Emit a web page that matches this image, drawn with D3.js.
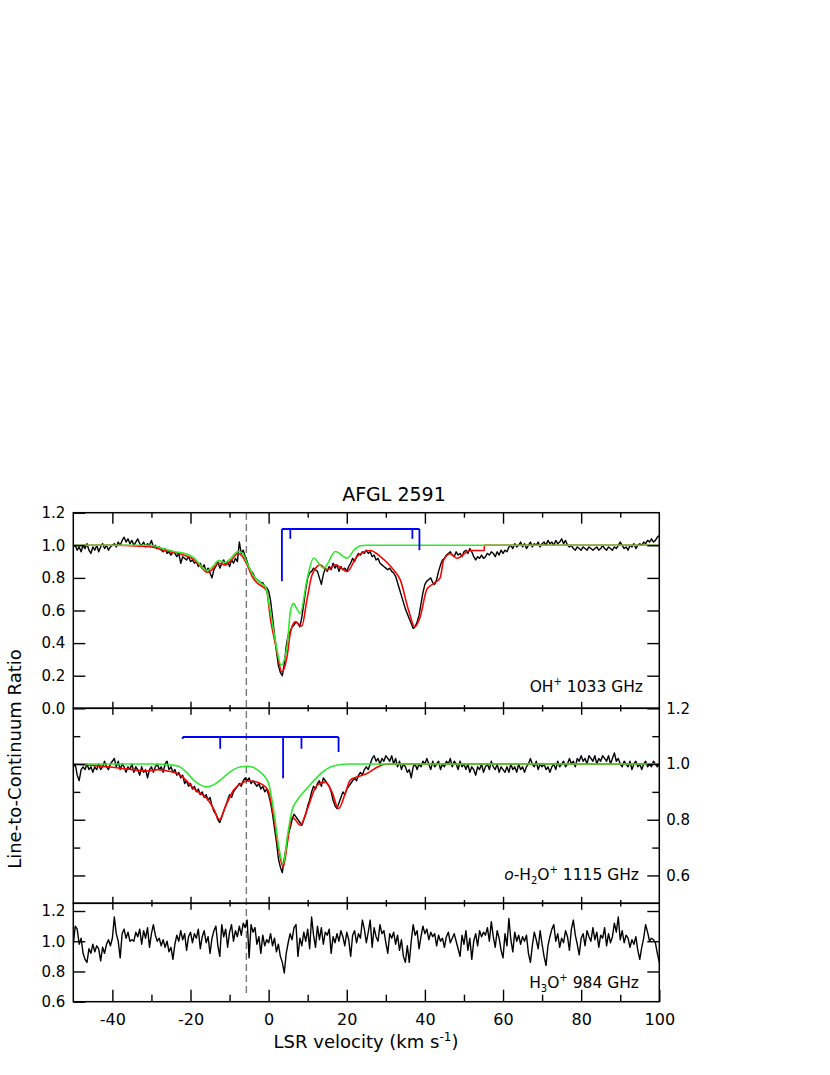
<!DOCTYPE html>
<html>
<head>
<meta charset="utf-8">
<script src="https://cdn.jsdelivr.net/npm/d3@7"></script>
<style>
  body { margin: 0; background: #fff; }
  text { font-family: "DejaVu Sans", sans-serif; fill: #000; }
</style>
</head>
<body>
<script>
// Spectra are sampled every 0.5 km/s from -50 to 100 km/s
var velStart = -50;
var velStep = 0.5;

// OH+ 1033 GHz observed line-to-continuum ratio
var ohSpec = [
  0.99, 1.00, 0.97, 0.99, 0.96, 1.00, 0.98, 1.01, 0.97, 0.95, 0.99, 0.97, 1.00, 0.96, 0.99, 1.01, 0.98, 1.00, 0.97, 0.99, 1.00,
  1.01, 0.99, 1.02, 1.00, 1.03, 1.05, 1.02, 1.04, 1.01, 1.03, 1.00, 1.02, 1.04, 1.01, 1.00, 1.02, 0.99, 1.01, 1.00, 1.03, 0.99, 1.00, 0.98, 0.99,
  0.97, 0.96, 0.98, 0.95, 0.96, 0.94, 0.96, 0.95, 0.93, 0.95, 0.89, 0.93, 0.92, 0.91, 0.93, 0.90,
  0.91, 0.89, 0.90, 0.87, 0.89, 0.86, 0.88, 0.84, 0.86, 0.83, 0.80, 0.85,
  0.87, 0.90, 0.86, 0.89, 0.91, 0.88, 0.90, 0.87, 0.91, 0.89, 0.92, 0.90,
  1.02, 0.95, 0.97, 0.93, 0.90,
  0.86, 0.84, 0.83, 0.80, 0.79, 0.78, 0.77, 0.77, 0.75, 0.74, 0.72,
  0.66, 0.56, 0.45, 0.35, 0.26, 0.22, 0.20, 0.27, 0.38, 0.45,
  0.47, 0.50, 0.51, 0.53, 0.52, 0.50, 0.56, 0.64, 0.73, 0.80,
  0.83, 0.84, 0.86, 0.85, 0.84, 0.80, 0.76, 0.82, 0.86, 0.84,
  0.87, 0.85, 0.89, 0.86, 0.88, 0.84, 0.87, 0.85, 0.86, 0.84,
  0.87, 0.89, 0.92, 0.90, 0.93, 0.95, 0.94, 0.96, 0.95, 0.97,
  0.95, 0.96, 0.93, 0.94, 0.91, 0.92, 0.89, 0.88, 0.87, 0.86,
  0.85, 0.86, 0.84, 0.83, 0.81, 0.77, 0.73, 0.69, 0.65, 0.61,
  0.58, 0.55, 0.52, 0.49, 0.50, 0.53, 0.57, 0.64, 0.71, 0.76,
  0.78, 0.79, 0.80, 0.77, 0.76, 0.79, 0.84, 0.88, 0.91, 0.92,
  0.94, 0.95, 0.96, 0.94, 0.93, 0.96, 0.94, 0.95, 0.93, 0.96,
  0.97, 0.95, 0.98, 0.96, 0.93, 0.91, 0.93, 0.92, 0.94, 0.92,
  0.93, 0.95, 0.94, 0.96, 0.95, 0.93, 0.96, 0.94, 0.97, 0.95,
  0.97, 0.96, 0.99, 1.00, 0.98, 1.01, 0.99, 1.00, 1.02, 0.99,
  1.01, 0.98, 1.00, 1.02, 0.99, 1.01, 1.00, 1.02, 0.99, 1.01,
  1.02, 1.00, 1.03, 1.01, 1.02, 1.00, 1.03, 1.01, 1.02, 1.04,
  1.01, 1.03, 1.00, 0.99, 1.00, 0.98, 0.97, 0.99, 0.98, 0.97,
  0.99, 0.98, 0.97, 0.99, 0.98, 0.97, 0.98, 0.99, 0.97, 0.98,
  1.00, 0.98, 0.97, 0.99, 0.98, 0.97, 0.99, 0.98, 1.00, 1.02,
  1.00, 0.98, 0.99, 0.97, 1.00, 0.99, 1.01, 0.98, 1.00, 1.01,
  1.00, 1.02, 1.01, 1.03, 1.02, 1.04, 1.02, 1.03, 1.05, 1.06
];

// OH+ full model (red) and model without foreground (green)
var ohRedVel = [-50, -40, -33, -30, -27, -24, -21.8, -19, -17, -15.8, -14.5, -12.8, -11.1, -9.5, -7.9, -6.8, -5.5, -4, -3, -1.5, -0.5, 0.4, 1.9, 3.4, 4.7, 5.55, 6.8, 8.5, 9.8, 11.1, 13.2, 14.9, 17.1, 20.1, 22.6, 26, 28.6, 30.5, 32, 33.7, 35.8, 37.4, 38.8, 40.5, 42.2, 43.9, 44.8, 46.5, 48.2, 51.6, 55.2, 55.21, 100];
var ohRedVal = [1.0, 1.0, 0.995, 0.99, 0.97, 0.955, 0.94, 0.91, 0.86, 0.833, 0.85, 0.89, 0.88, 0.91, 0.95, 0.935, 0.88, 0.80, 0.77, 0.745, 0.72, 0.56, 0.377, 0.224, 0.316, 0.46, 0.531, 0.505, 0.665, 0.818, 0.88, 0.849, 0.88, 0.839, 0.931, 0.968, 0.931, 0.89, 0.849, 0.788, 0.603, 0.50, 0.562, 0.73, 0.765, 0.80, 0.91, 0.948, 0.921, 0.968, 0.968, 1.0, 1.0];
var ohGreenVel = [-50, -30.3, -27, -24, -21.8, -19, -17, -15.8, -14.3, -12.8, -11.1, -9.5, -7.9, -6.8, -5.5, -4, -3, -1.8, -0.85, 0.4, 1.7, 3.2, 4.7, 5.6, 6.4, 7, 8.1, 9.8, 11.5, 14.1, 17.1, 20.1, 22, 23.5, 25, 100];
var ohGreenVal = [1.0, 1.0, 0.98, 0.96, 0.952, 0.92, 0.865, 0.845, 0.87, 0.906, 0.894, 0.925, 0.962, 0.955, 0.89, 0.82, 0.788, 0.765, 0.747, 0.603, 0.418, 0.265, 0.377, 0.60, 0.644, 0.62, 0.584, 0.788, 0.921, 0.86, 0.962, 0.921, 0.975, 0.997, 1.0, 1.0];

// o-H2O+ 1115 GHz observed ratio
var h2opSpec = [
  0.99, 1.00, 0.96, 0.94, 0.98, 0.99, 0.98, 1.00, 0.98, 0.99,
  0.97, 0.99, 0.98, 1.00, 0.98, 0.99, 1.01, 0.99, 0.98, 1.00,
  1.01, 1.02, 0.99, 1.01, 0.98, 1.00, 0.99, 0.97, 0.99, 0.98,
  1.00, 0.97, 0.99, 0.98, 0.96, 0.99, 0.97, 0.98, 0.95, 0.98,
  0.99, 0.97, 0.99, 1.00, 0.98, 0.99, 0.97, 1.00, 1.01, 0.98,
  0.99, 0.97, 0.98, 0.96, 0.97, 0.95, 0.96, 0.93, 0.94, 0.92,
  0.93, 0.91, 0.92, 0.90, 0.91, 0.89, 0.90, 0.88, 0.89, 0.87,
  0.88, 0.85, 0.83, 0.82, 0.80, 0.79, 0.81, 0.83, 0.85, 0.87,
  0.89, 0.88, 0.90, 0.91, 0.92, 0.93, 0.92, 0.94, 0.95, 0.94,
  0.95, 0.93, 0.94, 0.93, 0.92, 0.93, 0.91, 0.92, 0.90, 0.91,
  0.89,
  0.86, 0.82, 0.77, 0.72, 0.66, 0.63, 0.61, 0.66, 0.70, 0.75,
  0.77, 0.80, 0.82, 0.81, 0.80, 0.79, 0.78, 0.80, 0.82, 0.85,
  0.87, 0.90, 0.92, 0.91, 0.93, 0.94, 0.92, 0.95, 0.94, 0.93,
  0.92, 0.90, 0.87, 0.85, 0.84, 0.86, 0.88, 0.90, 0.89, 0.91,
  0.92, 0.93, 0.94, 0.95, 0.94, 0.96, 0.97, 0.96, 0.98, 0.99,
  0.98, 1.00, 1.02, 1.03, 1.01, 1.02, 1.00, 1.02, 1.01, 1.03,
  1.02, 1.01, 1.03, 1.00, 1.02, 0.99, 1.01, 0.98, 1.00, 0.99,
  0.97, 0.98, 0.95, 0.99, 1.00, 0.98, 1.00, 0.99, 1.01, 1.00,
  1.02, 1.00, 0.98, 1.01, 0.99, 1.00, 1.01, 0.98, 1.00, 0.99,
  1.01, 1.00, 1.02, 0.99, 1.01, 1.00, 0.98, 1.01, 0.99, 1.00,
  0.98, 1.00, 0.97, 0.99, 0.98, 0.96, 0.99, 0.98, 1.00, 0.97,
  0.99, 1.00, 0.98, 1.01, 0.99, 0.98, 1.00, 0.97, 0.99, 0.98,
  0.97, 0.99, 0.97, 1.00, 0.98, 0.99, 0.97, 1.00, 0.98, 0.99,
  0.97, 0.99, 1.00, 1.02, 1.00, 0.99, 1.01, 0.98, 1.00, 0.99,
  1.00, 0.98, 0.99, 0.97, 0.99, 1.00, 0.98, 1.01, 0.99, 1.00,
  1.01, 0.99, 1.00, 1.02, 1.00, 1.01, 0.99, 1.02, 1.01, 1.03,
  1.01, 1.02, 1.00, 1.03, 1.02, 1.01, 1.03, 1.00, 1.02, 1.01,
  1.03, 1.02, 1.01, 1.03, 1.00, 1.02, 1.04, 1.01, 1.02, 1.00,
  0.99, 1.01, 1.00, 0.99, 1.01, 0.98, 1.00, 1.01, 0.99, 1.00,
  0.98, 1.00, 1.01, 0.99, 1.00, 0.99, 1.01, 1.00, 0.99, 1.00
];
var h2opRedVel = [-50, -45, -40.5, -35, -31, -28.4, -26, -24.3, -22.6, -21, -19.2, -17.5, -15.8, -14.1, -12.6, -11.1, -9, -7, -5.5, -3.5, -2.1, -1, 0, 1.3, 2.6, 3.7, 4.9, 6, 6.8, 8.1, 9.8, 12.4, 14.5, 16.2, 17.9, 19.6, 20.9, 23, 25.2, 28, 30.3, 100];
var h2opRedVal = [1.0, 0.995, 0.989, 0.98, 0.975, 0.98, 0.975, 0.97, 0.96, 0.94, 0.912, 0.895, 0.876, 0.84, 0.80, 0.846, 0.906, 0.93, 0.939, 0.937, 0.93, 0.92, 0.90, 0.81, 0.69, 0.63, 0.726, 0.81, 0.80, 0.78, 0.834, 0.924, 0.935, 0.90, 0.84, 0.894, 0.942, 0.955, 0.966, 0.99, 1.0, 1.0];
var h2opGreenVel = [-50, -30, -24, -22.6, -21, -19.2, -17.5, -15.8, -14, -12.4, -10.5, -9, -7, -5.5, -4, -2.1, -1, 0, 1.3, 2.6, 3.7, 4.9, 6, 7.3, 9.8, 12.4, 15.8, 18.4, 20, 100];
var h2opGreenVal = [1.0, 1.0, 0.995, 0.989, 0.97, 0.942, 0.925, 0.918, 0.926, 0.942, 0.965, 0.98, 0.99, 0.992, 0.988, 0.971, 0.955, 0.93, 0.834, 0.702, 0.642, 0.75, 0.834, 0.87, 0.912, 0.953, 0.989, 0.998, 1.0, 1.0];

// H3O+ 984 GHz observed ratio
var h3opSpec = [
  0.98, 1.10, 1.08, 0.98, 1.02, 0.92, 0.88, 0.86, 0.95, 0.92,
  0.98, 0.93, 0.97, 0.95, 0.87, 0.96, 0.92, 0.98, 1.01, 0.97,
  1.02, 1.16, 1.05, 1.00, 0.89, 1.05, 1.08, 1.02, 1.06, 1.00,
  1.01, 1.00, 1.06, 1.03, 1.08, 0.98, 1.07, 1.02, 1.09, 0.96,
  1.05, 1.11, 1.04, 1.00, 1.02, 0.97, 1.01, 0.96, 1.00, 0.93,
  0.96, 0.88, 0.98, 1.04, 1.00, 1.07, 1.01, 1.05, 0.94, 1.03,
  1.06, 0.99, 1.05, 1.02, 1.08, 0.95, 1.03, 1.07, 0.99, 1.03,
  0.92, 1.02, 1.07, 1.10, 0.97, 0.90, 1.11, 1.03, 1.08, 0.96,
  1.06, 1.11, 1.00, 1.07, 1.03, 1.10, 1.04, 1.12, 1.09, 1.14,
  0.89, 1.11, 1.06, 1.09, 0.98, 1.03, 0.92, 1.04, 0.97, 1.01,
  0.99,
  1.05, 0.97, 1.02, 0.93, 0.98, 0.90, 0.86, 0.79, 0.92, 0.99,
  1.05, 1.01, 1.09, 1.11, 0.90, 1.02, 0.97, 1.06, 1.00, 1.08,
  0.95, 1.16, 1.04, 0.96, 1.10, 1.01, 1.09, 0.98, 1.06, 1.04,
  1.08, 0.92, 1.03, 0.99, 1.05, 1.00, 1.07, 1.03, 0.97, 1.06,
  1.01, 0.90, 1.04, 1.07, 0.99, 1.05, 1.02, 1.14, 1.08, 0.99,
  1.06, 1.14, 0.96, 1.09, 1.03, 1.00, 1.11, 1.05, 1.07, 0.99,
  0.92, 1.05, 1.02, 1.06, 0.98, 1.04, 0.94, 1.01, 0.90, 0.86,
  0.97, 0.86, 1.00, 1.11, 1.04, 1.07, 0.95, 1.03, 1.10, 1.05,
  1.08, 1.01, 1.06, 1.03, 1.05, 0.97, 1.04, 1.00, 1.02, 0.96,
  1.03, 1.06, 0.99, 1.02, 1.05, 1.00, 0.95, 0.90, 1.04, 0.98,
  1.07, 0.94, 1.02, 0.88, 1.00, 1.05, 0.97, 1.07, 1.03, 1.06,
  1.04, 1.09, 1.00, 1.13, 1.03, 0.96, 1.07, 1.02, 0.94, 0.89,
  1.05, 0.97, 1.15, 1.01, 0.93, 1.06, 1.00, 1.04, 0.98, 1.03,
  1.00, 1.04, 0.92, 0.86, 0.97, 1.06, 1.01, 0.95, 1.07, 0.98,
  0.90, 0.84, 0.97, 1.03, 1.08, 1.11, 1.00, 1.05, 0.96, 1.02,
  0.99, 1.07, 1.03, 0.94, 1.08, 1.14, 1.04, 0.98, 0.91, 1.02,
  1.05, 0.97, 1.07, 1.03, 1.00, 1.09, 1.01, 1.06, 0.96, 1.04,
  1.02, 1.09, 0.97, 1.05, 0.99, 1.03, 1.12, 1.06, 1.16, 1.01,
  1.07, 0.99, 1.04, 1.02, 0.96, 1.01, 0.98, 1.03, 0.94, 0.88,
  0.96, 1.02, 1.11, 1.06, 1.00, 1.02, 1.01, 0.99, 0.92, 0.86
];

// Hyperfine structure markers (velocity, lower end of each stick)
var ohHfsLevel = 1.10;
var ohHfsVel = [3.4, 5.55, 36.8, 38.6];
var ohHfsLow = [0.78, 1.04, 1.04, 0.97];
var h2opHfsLevel = 1.097;
var h2opHfsVel = [-22.0, -12.4, 3.7, 8.4, 17.9];
var h2opHfsLow = [1.09, 1.055, 0.949, 1.055, 1.043];

// Systemic velocity of the source
var vSys = -5.7;

var xMajor = [-40, -20, 0, 20, 40, 60, 80];
var xMinor = [-30, -10, 10, 30, 50, 70, 90];
var xLabels = [-40, -20, 0, 20, 40, 60, 80, 100];

var width = 830, height = 1075;
var left = 73.3, right = 659.3;
var svg = d3.select("body").append("svg")
    .attr("width", width)
    .attr("height", height);

var x = d3.scaleLinear().domain([-50, 100]).range([left, right]);

// Three stacked panels sharing the x axis
var y1 = d3.scaleLinear().domain([0, 1.2]).range([708.3, 512.7]);
var y2 = d3.scaleLinear().domain([0.5, 1.2]).range([903.3, 708.3]);
var y3 = d3.scaleLinear().domain([0.6, 1.251]).range([1001.7, 903.3]);

function channels(spec) {
    return spec.map(function (v, i) { return { v: velStart + i * velStep, r: v }; });
}
function pairs(vel, val) {
    return vel.map(function (v, i) { return { v: v, r: val[i] }; });
}

function clipFor(id, y) {
    svg.append("clipPath").attr("id", id)
        .append("rect")
        .attr("x", left).attr("y", y.range()[1])
        .attr("width", right - left).attr("height", y.range()[0] - y.range()[1]);
}
clipFor("c1", y1); clipFor("c2", y2); clipFor("c3", y3);

// dashed line at the systemic velocity, behind everything
svg.append("line")
    .attr("x1", x(vSys)).attr("x2", x(vSys))
    .attr("y1", 513).attr("y2", 995)
    .attr("stroke", "#777")
    .attr("stroke-width", 1.4)
    .attr("stroke-dasharray", "7,4");

function drawPanel(y, clip, spec, red, green) {
    var g = svg.append("g").attr("clip-path", "url(#" + clip + ")");
    var line = d3.line().x(function (d) { return x(d.v); }).y(function (d) { return y(d.r); });
    var smooth = d3.line().curve(d3.curveMonotoneX)
        .x(function (d) { return x(d.v); }).y(function (d) { return y(d.r); });
    g.append("path").datum(channels(spec))
        .attr("d", line).attr("fill", "none")
        .attr("stroke", "#000").attr("stroke-width", 1.4).attr("stroke-linejoin", "round");
    if (red) {
        g.append("path").datum(red)
            .attr("d", smooth).attr("fill", "none")
            .attr("stroke", "#ff0000").attr("stroke-width", 1.6);
    }
    if (green) {
        g.append("path").datum(green)
            .attr("d", smooth).attr("fill", "none")
            .attr("stroke", "#2ee82e").attr("stroke-width", 1.6);
    }
}

drawPanel(y1, "c1", ohSpec, pairs(ohRedVel, ohRedVal), pairs(ohGreenVel, ohGreenVal));
drawPanel(y2, "c2", h2opSpec, pairs(h2opRedVel, h2opRedVal), pairs(h2opGreenVel, h2opGreenVal));
drawPanel(y3, "c3", h3opSpec, null, null);

// hyperfine sticks
function drawHfs(y, level, vel, low) {
    var g = svg.append("g").attr("stroke", "#0000ff").attr("stroke-width", 1.8).attr("fill", "none");
    g.append("line")
        .attr("x1", x(d3.min(vel))).attr("x2", x(d3.max(vel)))
        .attr("y1", y(level)).attr("y2", y(level));
    g.selectAll(".stick").data(vel).enter().append("line")
        .attr("class", "stick")
        .attr("x1", function (d) { return x(d); })
        .attr("x2", function (d) { return x(d); })
        .attr("y1", y(level))
        .attr("y2", function (d, i) { return y(low[i]); });
}
drawHfs(y1, ohHfsLevel, ohHfsVel, ohHfsLow);
drawHfs(y2, h2opHfsLevel, h2opHfsVel, h2opHfsLow);

// Axes: ticks drawn inward, domains replaced by the frame
function styleAxis(g, size) {
    g.select(".domain").remove();
    g.selectAll("line").attr("stroke", "#000").attr("stroke-width", 1.4);
    g.selectAll("text").attr("font-family", "DejaVu Sans, sans-serif")
        .attr("font-size", size).attr("fill", "#000");
}
function addAxis(axis, tx, ty, size) {
    var g = svg.append("g").attr("transform", "translate(" + tx + "," + ty + ")").call(axis);
    styleAxis(g, size || 15);
    return g;
}
var fmt = d3.format(".1f");
var none = function () { return ""; };
// plain hyphen for negative tick labels, as in the original figure
var intFmt = function (d) { return String(d); };

// panel 1 y ticks
addAxis(d3.axisLeft(y1).tickValues([0, 0.2, 0.4, 0.6, 0.8, 1.0, 1.2]).tickSizeInner(-12).tickSizeOuter(0).tickPadding(8).tickFormat(fmt), left, 0);
addAxis(d3.axisRight(y1).tickValues([0.2, 0.4, 0.6, 0.8, 1.0]).tickSizeInner(-12).tickSizeOuter(0).tickFormat(none), right, 0);
// panel 2 y ticks
addAxis(d3.axisLeft(y2).tickValues([0.6, 0.8, 1.0]).tickSizeInner(-12).tickSizeOuter(0).tickFormat(none), left, 0);
addAxis(d3.axisLeft(y2).tickValues([0.7, 0.9, 1.1]).tickSizeInner(-7).tickSizeOuter(0).tickFormat(none), left, 0);
addAxis(d3.axisRight(y2).tickValues([0.6, 0.8, 1.0, 1.2]).tickSizeInner(-12).tickSizeOuter(0).tickPadding(7).tickFormat(fmt), right, 0);
addAxis(d3.axisRight(y2).tickValues([0.7, 0.9, 1.1]).tickSizeInner(-7).tickSizeOuter(0).tickFormat(none), right, 0);
// panel 3 y ticks
addAxis(d3.axisLeft(y3).tickValues([0.6, 0.8, 1.0, 1.2]).tickSizeInner(-12).tickSizeOuter(0).tickPadding(8).tickFormat(fmt), left, 0);
addAxis(d3.axisRight(y3).tickValues([0.8, 1.0, 1.2]).tickSizeInner(-12).tickSizeOuter(0).tickFormat(none), right, 0);

// x ticks: top edge, the two panel boundaries and the bottom edge
addAxis(d3.axisTop(x).tickValues(xMajor).tickSizeInner(-11).tickSizeOuter(0).tickFormat(none), 0, 512.7);
addAxis(d3.axisTop(x).tickValues(xMinor).tickSizeInner(-5).tickSizeOuter(0).tickFormat(none), 0, 512.7);
[708.3, 903.3].forEach(function (yy) {
    addAxis(d3.axisTop(x).tickValues(xMajor).tickSizeInner(6.5).tickSizeOuter(0).tickFormat(none), 0, yy);
    addAxis(d3.axisBottom(x).tickValues(xMajor).tickSizeInner(6.5).tickSizeOuter(0).tickFormat(none), 0, yy);
    addAxis(d3.axisTop(x).tickValues(xMinor).tickSizeInner(3.3).tickSizeOuter(0).tickFormat(none), 0, yy);
    addAxis(d3.axisBottom(x).tickValues(xMinor).tickSizeInner(3.3).tickSizeOuter(0).tickFormat(none), 0, yy);
});
addAxis(d3.axisBottom(x).tickValues(xLabels).tickSizeInner(-12).tickSizeOuter(0).tickPadding(12).tickFormat(intFmt), 0, 1001.7, 16);
addAxis(d3.axisBottom(x).tickValues(xMinor).tickSizeInner(-7).tickSizeOuter(0).tickFormat(none), 0, 1001.7);

// frames
[y1, y2, y3].forEach(function (y) {
    svg.append("rect")
        .attr("x", left).attr("y", y.range()[1])
        .attr("width", right - left).attr("height", y.range()[0] - y.range()[1])
        .attr("fill", "none").attr("stroke", "#000").attr("stroke-width", 1.5);
});

// titles
svg.append("text")
    .attr("x", 394).attr("y", 501)
    .attr("text-anchor", "middle")
    .attr("font-size", 19)
    .text("AFGL 2591");

var xt = svg.append("text")
    .attr("x", 366).attr("y", 1048)
    .attr("text-anchor", "middle")
    .attr("font-size", 18);
xt.append("tspan").text("LSR velocity (km s");
xt.append("tspan").attr("dy", -7).attr("font-size", 12).text("-1");
xt.append("tspan").attr("dy", 7).text(")");

svg.append("text")
    .attr("transform", "translate(21,759) rotate(-90)")
    .attr("text-anchor", "middle")
    .attr("font-size", 18)
    .text("Line-to-Continuum Ratio");

// species labels
var l1 = svg.append("text").attr("x", 643).attr("y", 692).attr("text-anchor", "end").attr("font-size", 15.5);
l1.append("tspan").text("OH");
l1.append("tspan").attr("dy", -7).attr("font-size", 10).text("+");
l1.append("tspan").attr("dy", 7).text(" 1033 GHz");

var l2 = svg.append("text").attr("x", 639).attr("y", 880).attr("text-anchor", "end").attr("font-size", 15.5);
l2.append("tspan").attr("font-style", "italic").text("o");
l2.append("tspan").text("-H");
l2.append("tspan").attr("dy", 4).attr("font-size", 10).text("2");
l2.append("tspan").attr("dy", -4).text("O");
l2.append("tspan").attr("dy", -7).attr("font-size", 10).text("+");
l2.append("tspan").attr("dy", 7).text(" 1115 GHz");

var l3 = svg.append("text").attr("x", 639).attr("y", 988).attr("text-anchor", "end").attr("font-size", 15.5);
l3.append("tspan").text("H");
l3.append("tspan").attr("dy", 4).attr("font-size", 10).text("3");
l3.append("tspan").attr("dy", -4).text("O");
l3.append("tspan").attr("dy", -7).attr("font-size", 10).text("+");
l3.append("tspan").attr("dy", 7).text(" 984 GHz");
</script>
</body>
</html>
